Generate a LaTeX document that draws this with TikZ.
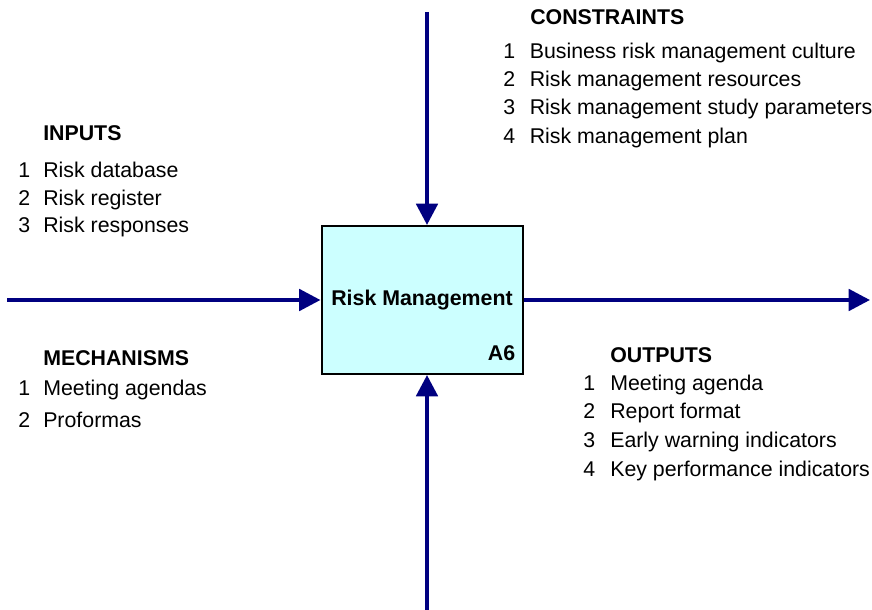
\documentclass[tikz,border=0pt]{standalone}
\usepackage{fontspec}
\setmainfont{Liberation Sans}
\usetikzlibrary{arrows.meta}
\usetikzlibrary{positioning}
\definecolor{idefblue}{HTML}{000080}
\definecolor{idefcyan}{HTML}{CCFFFF}
\newcommand{\idefsize}{\fontsize{16}{19}\selectfont}
\tikzstyle{activity}=[draw=black,line width=1.5pt,fill=idefcyan,minimum width=150.75pt,minimum height=111pt,inner sep=0pt,font=\idefsize\bfseries]
\tikzstyle{flow}=[draw=idefblue,line width=3pt,-{Triangle[length=16pt,width=16pt]}]
\tikzstyle{heading}=[anchor=base west,inner sep=0pt,font=\idefsize\bfseries]
\tikzstyle{entry}=[anchor=base west,inner sep=0pt,font=\idefsize]

\begin{document}
\begin{tikzpicture}[x=0.75pt,y=-0.75pt]

  \useasboundingbox (0,0) rectangle (872,610);

  % the activity box
  \node[activity] (rm) at (422,300) {Risk Management};
  \node[heading,anchor=base east] (a6) at (515.5,360) {A6};

  % free ends of the four flows
  \coordinate (ctop) at (427,12);
  \coordinate (cbot) at (427,610);
  \coordinate (cin) at (7,300);
  \coordinate (cout) at (870,300);

  \draw[flow] (cin) -- (rm.west);
  \draw[flow] (ctop) -- (ctop |- rm.north);
  \draw[flow] (cbot) -- (cbot |- rm.south);
  \draw[flow] (rm.east) -- (cout);

  % constraints
  \node[heading] (chead) at (530,25) {CONSTRAINTS};
  \foreach \y/\n/\name/\label in {59/1/c1/Business risk management culture, 87/2/c2/Risk management resources,
                                  115/3/c3/Risk management study parameters, 143/4/c4/Risk management plan}
  {
     \node[entry] (n\name) at (503,\y) {\n};
     \node[entry] (\name) at (529.5,\y) {\label};
  }

  % inputs
  \node[heading] (ihead) at (43,141) {INPUTS};
  \foreach \y/\n/\name/\label in {177/1/i1/Risk database, 205/2/i2/Risk register, 233/3/i3/Risk responses}
  {
     \node[entry] (n\name) at (18,\y) {\n};
     \node[entry] (\name) at (43,\y) {\label};
  }

  % mechanisms
  \node[heading] (mhead) at (43,365) {MECHANISMS};
  \foreach \y/\n/\name/\label in {395/1/m1/Meeting agendas, 427/2/m2/Proformas}
  {
     \node[entry] (n\name) at (18,\y) {\n};
     \node[entry] (\name) at (43,\y) {\label};
  }

  % outputs
  \node[heading] (ohead) at (610,362) {OUTPUTS};
  \foreach \y/\n/\name/\label in {390/1/o1/Meeting agenda, 418/2/o2/Report format,
                                  447/3/o3/Early warning indicators, 476/4/o4/Key performance indicators}
  {
     \node[entry] (n\name) at (583,\y) {\n};
     \node[entry] (\name) at (610,\y) {\label};
  }

\end{tikzpicture}
\end{document}
